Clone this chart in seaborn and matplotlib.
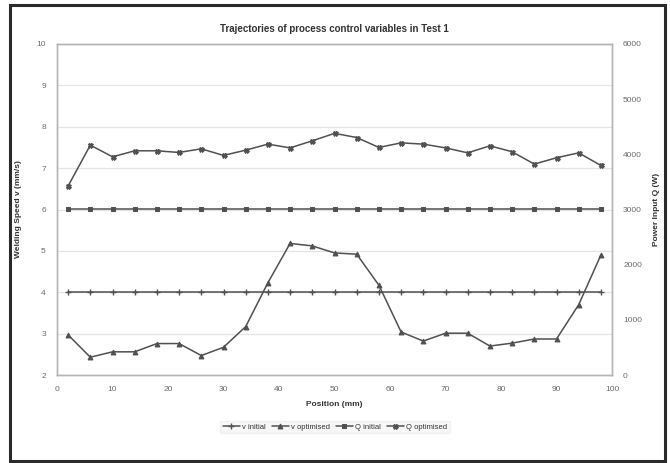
import numpy as np
import pandas as pd
import matplotlib
matplotlib.use("Agg")
import matplotlib.pyplot as plt
import seaborn as sns
from matplotlib.patches import Rectangle

# Measurement positions along the weld (mm)
position = [2, 6, 10, 14, 18, 22, 26, 30, 34, 38, 42, 46, 50,
            54, 58, 62, 66, 70, 74, 78, 82, 86, 90, 94, 98]

# Welding speed v (mm/s)
v_initial = [4.0] * 25
v_optimised = [2.97, 2.43, 2.56, 2.56, 2.76, 2.76, 2.47, 2.67, 3.17, 4.23,
               5.18, 5.12, 4.95, 4.92, 4.17, 3.04, 2.82, 3.01, 3.01, 2.70,
               2.77, 2.87, 2.87, 3.70, 4.90]

# Power input Q (W)
q_initial = [3000] * 25
q_optimised = [3425, 4167, 3955, 4064, 4064, 4034, 4100, 3980, 4076, 4185,
               4117, 4245, 4380, 4305, 4125, 4208, 4185, 4117, 4027, 4154,
               4047, 3823, 3938, 4027, 3798]

df = pd.DataFrame({
    "position": position,
    "v initial": v_initial,
    "v optimised": v_optimised,
    "Q initial": q_initial,
    "Q optimised": q_optimised,
})

sns.set_theme(style="white")
plt.rcParams["font.family"] = ["Liberation Sans", "DejaVu Sans"]

line_col = "#505050"
text_col = "#333333"
tick_col = "#6a6a6a"

fig = plt.figure(figsize=(6.7, 4.63), dpi=100)
fig.patch.set_facecolor("white")
ax = fig.add_axes([57 / 670, 1 - 375 / 463, (612 - 57) / 670, (375 - 44) / 463])
ax2 = ax.twinx()

common = dict(color=line_col, linewidth=1.1, markeredgecolor=line_col,
              markerfacecolor=line_col)

sns.lineplot(data=df, x="position", y="v initial", ax=ax, marker="+",
             markersize=4.5, markeredgewidth=1.0, label="v initial",
             legend=False, **common)
sns.lineplot(data=df, x="position", y="v optimised", ax=ax, marker="^",
             markersize=3.5, label="v optimised", legend=False, **common)
sns.lineplot(data=df, x="position", y="Q initial", ax=ax2, marker="s",
             markersize=3.2, label="Q initial", legend=False, **common)
sns.lineplot(data=df, x="position", y="Q optimised", ax=ax2, marker="X",
             markersize=3.6, label="Q optimised", legend=False, **common)

ax.set_xlim(0, 100)
ax.set_ylim(2, 10)
ax2.set_ylim(0, 6000)
ax.set_xticks(np.arange(0, 101, 10))
ax.set_yticks(np.arange(2, 11, 1))
ax2.set_yticks(np.arange(0, 6001, 1000))

ax.grid(axis="y", color="#e4e4e4", linewidth=0.9)
ax.set_axisbelow(True)
for a in (ax, ax2):
    for s in a.spines.values():
        s.set_color("#b5b5b5")
        s.set_linewidth(1.0)
    a.tick_params(labelsize=6, colors=tick_col, length=0, pad=8)

ax.set_xlabel("Position (mm)", fontsize=6, fontweight="bold", color=text_col,
              labelpad=6)
ax.set_ylabel("Welding Speed v (mm/s)", fontsize=6, fontweight="bold",
              color=text_col, labelpad=10)
ax2.set_ylabel("Power Input Q (W)", fontsize=6, fontweight="bold",
               color=text_col, labelpad=8)
ax.set_title("Trajectories of process control variables in Test 1",
             fontsize=7, fontweight="bold", color=text_col, pad=9)

h1, l1 = ax.get_legend_handles_labels()
h2, l2 = ax2.get_legend_handles_labels()
leg = fig.legend(h1 + h2, l1 + l2, loc="center", ncol=4,
                 bbox_to_anchor=(335 / 670, 1 - 427 / 463), fontsize=5.5,
                 frameon=True, handlelength=2.2, handletextpad=0.3,
                 columnspacing=0.8, borderpad=0.3, fancybox=False)
leg.get_frame().set_facecolor("#f5f5f5")
leg.get_frame().set_edgecolor("#eeeeee")
for t in leg.get_texts():
    t.set_color(text_col)

# Outer frame around the whole chart
fig.patches.append(Rectangle((10 / 670, 1 - 461 / 463), 655 / 670, 456 / 463,
                             transform=fig.transFigure, fill=False,
                             edgecolor="#2a2a2a", linewidth=2.2))

fig.savefig("out.png", dpi=100, facecolor="white")
